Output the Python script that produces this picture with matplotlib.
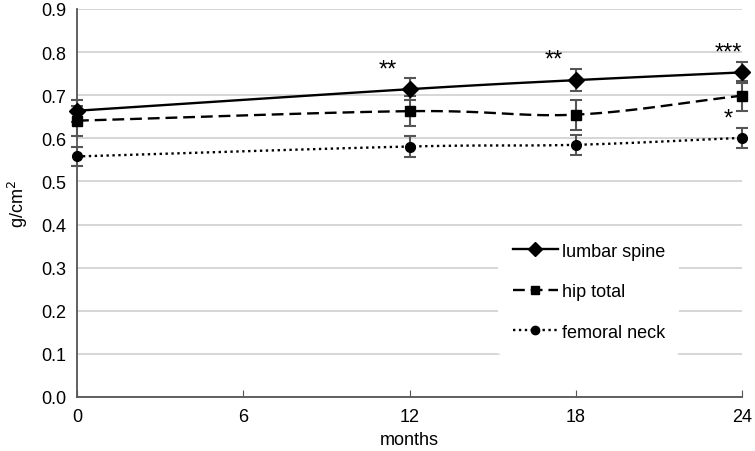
import matplotlib.pyplot as plt
import numpy as np

plt.rcParams["font.family"] = ["Liberation Sans", "DejaVu Sans"]

months = [0, 12, 18, 24]

lumbar = [0.664, 0.714, 0.735, 0.753]
lumbar_err = [0.025, 0.025, 0.026, 0.025]
hip = [0.641, 0.663, 0.655, 0.699]
hip_err = [0.035, 0.035, 0.035, 0.035]
neck = [0.558, 0.581, 0.585, 0.601]
neck_err = [0.023, 0.024, 0.023, 0.023]

# significance marks: (series, index, text)
stars = [("lumbar", 1, "**"), ("lumbar", 2, "**"), ("lumbar", 3, "***"), ("neck", 3, "*")]


def smooth(x, y, n = 40):
    # Catmull-Rom style curve through the points, like spreadsheet "smoothed line"
    x = np.asarray(x, float)
    y = np.asarray(y, float)
    px = np.concatenate([[2 * x[0] - x[1]], x, [2 * x[-1] - x[-2]]])
    py = np.concatenate([[2 * y[0] - y[1]], y, [2 * y[-1] - y[-2]]])
    xs, ys = [], []
    for i in range(1, len(px) - 2):
        t = np.linspace(0, 1, n)
        for arr, out in ((px, xs), (py, ys)):
            p0, p1, p2, p3 = arr[i - 1], arr[i], arr[i + 1], arr[i + 2]
            m1 = (p2 - p0) / 2
            m2 = (p3 - p1) / 2
            h00 = 2 * t**3 - 3 * t**2 + 1
            h10 = t**3 - 2 * t**2 + t
            h01 = -2 * t**3 + 3 * t**2
            h11 = t**3 - t**2
            out.extend(h00 * p1 + h10 * m1 + h01 * p2 + h11 * m2)
    return np.array(xs), np.array(ys)


fig = plt.figure(figsize = (7.55, 4.52), dpi = 100)
ax = fig.add_axes([77 / 755, 54 / 452, 665 / 755, 388 / 452])

series = [
    ("lumbar spine", lumbar, lumbar_err, "-", "D", 8, (None, None)),
    ("hip total", hip, hip_err, "--", "s", 7, (5, 2.5)),
    ("femoral neck", neck, neck_err, ":", "o", 7, (1, 1.5)),
]

for name, vals, err, ls, mk, ms, dash in series:
    eb = ax.errorbar(months, vals, yerr = err, linestyle = "none", ecolor = "#555555",
                     elinewidth = 1.5, capsize = 4, capthick = 1.5, zorder = 3)
    for art in eb.lines[1] + eb.lines[2]:
        art.set_clip_on(False)
    sx, sy = smooth(months, vals)
    line, = ax.plot(sx, sy, color = "black", lw = 1.7, linestyle = ls, zorder = 4)
    if dash[0] is not None:
        line.set_dashes(dash)
    ax.plot(months, vals, linestyle = "none", marker = mk, markersize = ms,
            color = "black", zorder = 5, clip_on = False)
    h, = ax.plot([], [], color = "black", lw = 1.7, linestyle = ls, marker = mk,
                 markersize = ms - 1, label = name)
    if dash[0] is not None:
        h.set_dashes(dash)

data = {"lumbar": (lumbar, lumbar_err), "neck": (neck, neck_err)}
for key, i, txt in stars:
    vals, err = data[key]
    dx = -0.8 if i < 3 else -0.5
    ax.text(months[i] + dx, vals[i] + err[i] - 0.004, txt, ha = "center", va = "bottom",
            fontsize = 17)

ax.set_xlim(0, 24)
ax.set_ylim(0, 0.9)
ax.set_xticks([0, 6, 12, 18, 24])
ax.set_yticks(np.arange(0, 0.91, 0.1))
ax.set_yticklabels(["%.1f" % v for v in np.arange(0, 0.91, 0.1)])
ax.grid(axis = "y", color = "#d0d0d0", lw = 1.2)
ax.set_axisbelow(True)
for s in ("top", "right"):
    ax.spines[s].set_visible(False)
ax.spines["left"].set_color("#555555")
ax.spines["bottom"].set_color("#555555")
ax.spines["left"].set_linewidth(1.3)
ax.spines["bottom"].set_linewidth(1.3)
ax.tick_params(axis = "y", length = 0, labelsize = 13, pad = 8)
ax.tick_params(axis = "x", direction = "in", length = 5, color = "#555555",
               labelsize = 13, pad = 8)
ax.set_xlabel("months", fontsize = 13, labelpad = 4)
ax.set_ylabel("g/cm$^2$", fontsize = 13, labelpad = 8)

leg = ax.legend(loc = "lower left", bbox_to_anchor = (0.62, 0.085), frameon = True,
                fontsize = 13, handlelength = 2.5, labelspacing = 1.3,
                borderpad = 0.8, handletextpad = 0.2)
leg.get_frame().set_edgecolor("none")
leg.get_frame().set_facecolor("white")
leg.get_frame().set_alpha(1)

fig.savefig("out.png", dpi = 100)
